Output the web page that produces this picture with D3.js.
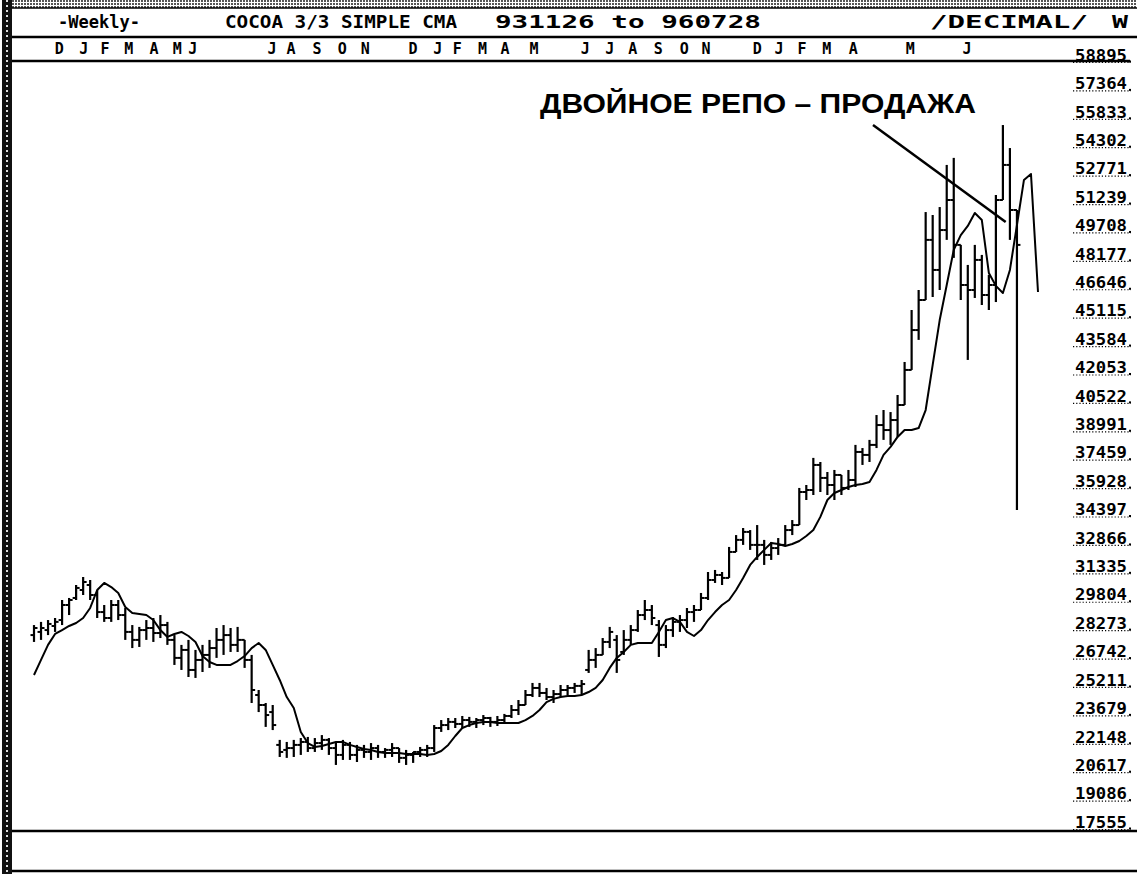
<!DOCTYPE html>
<html>
<head>
<meta charset="utf-8">
<script src="https://cdn.jsdelivr.net/npm/d3@7"></script>
<style>
  body { margin: 0; background: #fff; }
  svg { display: block; }
  .mono { font-family: 'DejaVu Sans Mono', monospace; font-weight: bold; fill: #000; }
  .note { font-family: 'Liberation Sans', Arial, sans-serif; font-weight: bold; fill: #000; }
</style>
</head>
<body>
<div class="graphic"></div>
<script>
// weekly bars, 931126 .. 960728
const highs = [28170,28340,28440,28550,29520,29630,30330,30760,30600,30060,
  29250,29520,29520,29090,28170,28070,28440,28550,28710,28340,
  27630,27100,27370,26830,27100,27370,28010,28170,28010,28070,
  27370,26560,24670,23970,23860,21980,21870,21980,22080,22140,
  22080,22240,22080,21870,21980,21870,21710,21710,21810,21710,
  21540,21810,21540,21440,21330,21600,21710,22780,23050,23160,
  23160,23270,23220,23160,23320,23220,23270,23380,23860,24130,
  24670,25050,25050,24780,24670,24940,24940,25050,25210,26830,
  26930,27470,28070,27630,27900,28170,28980,29520,29250,28440,
  28170,28600,28710,29090,29250,29900,31030,31140,31030,32380,
  33020,33400,33290,33560,32760,32650,32860,33560,33830,35560,
  35720,37180,36960,36420,36530,36260,36530,37880,37710,38150,
  39490,39760,39650,40570,42350,45150,46230,50430,50270,50700,
  52970,53350,48660,47580,48660,48120,47040,51350,55120,53880,
  50540]
const lows = [27260,27370,27630,27800,28170,28710,29520,29790,29520,28550,
  28340,28340,28440,27370,26930,26990,27370,27260,27470,27100,
  26020,25750,25370,25320,25640,25860,26400,26560,26720,26720,
  25860,23970,23480,22680,22510,21060,21010,21060,21170,21330,
  21330,21440,21170,20630,20900,20900,20790,21010,20900,21010,
  21010,21060,20740,20630,20740,21060,21060,21330,22410,22510,
  22620,22620,22680,22620,22780,22680,22730,22840,23160,23320,
  23860,24290,24290,24130,23970,24290,24400,24510,24400,25590,
  25860,26560,26930,25590,26560,27100,27800,28440,28170,26450,
  26930,27530,27800,28010,28340,28980,29520,30440,30330,30710,
  32110,32490,32220,31680,31410,31680,31950,32490,33020,33560,
  34910,35180,35340,35180,34910,35180,35450,35610,36800,36960,
  37710,38150,37880,38310,40030,41920,43540,45690,45850,46230,
  48930,47960,45690,42460,45800,45420,45150,45580,51080,48930,
  34370]
const opens = [27630,27800,27900,28120,28440,29250,29630,30060,30330,29790,
  28870,28550,29250,28710,27800,27370,27900,28010,27740,28170,
  27370,26400,26830,25750,26290,26560,26930,27370,27630,27100,
  27370,26290,24400,23860,23480,21710,21440,21540,21710,21870,
  21540,21810,21980,21540,21170,21710,21170,21440,21330,21540,
  21330,21440,21540,21010,21170,21330,21440,21540,22620,22780,
  22950,22840,23050,22950,23050,23160,22950,23050,23270,23590,
  23860,24400,24780,24510,24290,24450,24670,24780,24890,25750,
  26290,26560,27260,27370,26720,27370,27900,28710,28980,28170,
  27100,27900,28340,28440,28870,28980,29630,30600,30870,30710,
  32110,32760,33190,32490,32490,31950,32320,32490,33290,33560,
  35340,35450,36800,36100,35720,36260,35560,35990,37500,37340,
  37880,38950,38680,39220,40030,41920,44070,45690,48930,47310,
  49460,51080,48660,46500,46230,47850,45960,46500,51080,52970,
  50540]
const closes = [28010,28010,28230,28340,29250,29520,30170,30490,29790,28870,
  28550,29250,28710,27800,27370,27900,28010,27740,28170,27370,
  26400,26830,25750,26290,26560,26930,27370,27630,27100,27370,
  26290,24670,23860,23320,22780,21330,21540,21710,21870,21540,
  21810,21980,21540,21170,21710,21170,21440,21330,21540,21330,
  21440,21540,21010,21170,21330,21440,21540,22620,22780,22950,
  22840,23050,22950,23050,23160,22950,23050,23270,23590,23860,
  24400,24780,24510,24290,24450,24670,24780,24890,24990,26290,
  26560,27260,27800,26290,27370,27900,28710,28980,28550,27100,
  27900,28340,28440,28870,28980,29630,30600,30870,30710,32110,
  32760,33190,32490,32490,31950,32320,32490,33290,33560,35340,
  35450,36800,36100,35720,36260,35560,35990,37500,37340,37880,
  38950,38680,39220,40030,41920,44070,45690,48930,47310,49460,
  51080,48660,46500,46230,47850,45960,46500,51080,52970,50540,
  48660]
// 3/3 moving average, runs 3 weeks past the last bar
const movingAvg = [25480,26290,27100,27690,27900,28120,28280,28550,29090,30060,
  30440,30220,29900,29140,28820,28770,28710,28440,27900,27530,
  27690,27800,27580,27260,26500,26180,26020,26020,26020,26230,
  26500,26930,27200,26830,26020,25210,24290,23700,22410,21810,
  21600,21650,21760,21870,21870,21710,21600,21490,21440,21330,
  21270,21270,21270,21220,21220,21220,21170,21220,21380,21710,
  22190,22620,22780,22890,22950,22950,22890,22890,22890,22890,
  23050,23270,23590,24020,24190,24290,24350,24350,24400,24560,
  24780,25210,25860,26400,26720,27100,27200,27200,27200,27800,
  28440,28550,28340,27800,27580,27900,28440,28870,29250,29520,
  30060,30710,31410,31840,32220,32590,32540,32430,32540,32700,
  32970,33290,34000,34910,35290,35450,35610,35720,35770,35880,
  36530,37340,37770,38310,38680,38680,38790,39760,42190,44610,
  46500,48390,49190,49680,50380,50000,47150,46450,46070,47310,
  49730,52160,52480,46120]

const priceTicks = [58895,57364,55833,54302,52771,51239,49708,48177,46646,45115,
  43584,42053,40522,38991,37459,35928,34397,32866,31335,29804,
  28273,26742,25211,23679,22148,20617,19086,17555]

const monthLabels = ['D','J','F','M','A','M','J','J','A','S','O','N',
  'D','J','F','M','A','M','J','J','A','S','O','N','D','J','F','M','A','M','J']
// week index where each month letter sits
const monthPos = [3.6,7.1,10.1,13.5,17.1,20.4,22.6,33.9,36.6,40.3,43.9,47.2,
  54.0,57.5,60.3,63.9,67.1,71.2,78.5,82.0,85.3,88.9,92.6,95.7,
  103.0,106.1,109.4,112.9,116.7,124.8,132.9]

const headerTexts = ['-Weekly-', 'COCOA 3/3 SIMPLE CMA', '931126 to 960728', '/DECIMAL/', 'W']
const noteText = 'ДВОЙНОЕ РЕПО – ПРОДАЖА'
// pointer of the note, in week index / price
const noteIdx = [119.5, 138.4]
const noteVal = [55120, 49890]

const W = 1137
const H = 874
const TICK = 3.5

const svg = d3.select('.graphic').append('svg')
  .attr('width', W)
  .attr('height', H)

const defs = svg.append('defs')
const pat = defs.append('pattern')
  .attr('id', 'dots')
  .attr('width', 3)
  .attr('height', 3)
  .attr('patternUnits', 'userSpaceOnUse')
pat.append('rect').attr('width', 3).attr('height', 3).attr('fill', '#fff')
pat.append('rect').attr('width', 2).attr('height', 2).attr('fill', '#555')

svg.append('rect').attr('width', W).attr('height', H).attr('fill', '#fff')

// frame
svg.append('rect').attr('x', 12).attr('y', 0).attr('width', W - 12).attr('height', 8).attr('fill', 'url(#dots)')
svg.append('rect').attr('x', 2).attr('y', 0).attr('width', 10).attr('height', H).attr('fill', '#111')
svg.append('line')
  .attr('x1', 7).attr('x2', 7).attr('y1', 0).attr('y2', H)
  .attr('stroke', '#ddd').attr('stroke-width', 2).attr('stroke-dasharray', '2,3')

const hlines = [[8, 1.5, W], [37, 2.5, W], [61, 2.5, 1130], [831, 2.5, W], [871, 2.5, W]]
svg.selectAll('.hline')
  .data(hlines)
  .enter().append('line')
    .attr('class', 'hline')
    .attr('x1', 12).attr('x2', d => d[2])
    .attr('y1', d => d[0]).attr('y2', d => d[0])
    .attr('stroke', '#000').attr('stroke-width', d => d[1])

// header row
const headerX = [58, 225, 495, 930, 1112]
const headerW = [82, 232, 266, 158, 16]
svg.selectAll('.head')
  .data(headerTexts)
  .enter().append('text')
    .attr('class', 'mono head')
    .attr('x', (d, i) => headerX[i])
    .attr('y', 28)
    .attr('font-size', 17)
    .attr('textLength', (d, i) => headerW[i])
    .attr('lengthAdjust', 'spacingAndGlyphs')
    .text(d => d)

// scales
const x = d3.scaleLinear().domain([0, movingAvg.length - 1]).range([34, 1038])
const y = d3.scaleLinear().domain([17555, 58895]).range([822, 55])

// months
svg.selectAll('.month')
  .data(monthLabels)
  .enter().append('text')
    .attr('class', 'mono month')
    .attr('x', (d, i) => x(monthPos[i]))
    .attr('y', 54)
    .attr('font-size', 15)
    .attr('text-anchor', 'middle')
    .text(d => d)

// price axis
const axis = svg.append('g')
  .attr('class', 'axis axis--y')
  .attr('transform', 'translate(1127,0)')
  .call(d3.axisLeft(y).tickValues(priceTicks).tickSize(0).tickPadding(0).tickFormat(d3.format('d')))
axis.select('.domain').remove()
axis.selectAll('text')
  .attr('class', 'mono')
  .attr('font-size', 15)
  .attr('font-family', null)
  .attr('dy', '0.35em')
  .attr('textLength', 52)
  .attr('lengthAdjust', 'spacingAndGlyphs')
axis.selectAll('.tick').append('line')
  .attr('x1', -54).attr('x2', 4)
  .attr('y1', 7).attr('y2', 7)
  .attr('stroke', '#000').attr('stroke-width', 1.2)
  .attr('stroke-dasharray', '1.2,2')
axis.selectAll('.tick').append('rect')
  .attr('x', 2).attr('y', 5).attr('width', 2).attr('height', 2).attr('fill', '#000')

// bars
const plot = svg.append('g').attr('class', 'g-bars')
const bar = plot.selectAll('.bar')
  .data(highs)
  .enter().append('g')
    .attr('class', 'bar')
    .attr('transform', (d, i) => `translate(${x(i)},0)`)
bar.append('line')
  .attr('y1', d => y(d))
  .attr('y2', (d, i) => y(lows[i]))
  .attr('stroke', '#000').attr('stroke-width', 2.2)
bar.append('line')
  .attr('x1', -TICK).attr('x2', 0)
  .attr('y1', (d, i) => y(opens[i]))
  .attr('y2', (d, i) => y(opens[i]))
  .attr('stroke', '#000').attr('stroke-width', 2)
bar.append('line')
  .attr('x1', 0).attr('x2', TICK)
  .attr('y1', (d, i) => y(closes[i]))
  .attr('y2', (d, i) => y(closes[i]))
  .attr('stroke', '#000').attr('stroke-width', 2)

// moving average
const line = d3.line()
  .x((d, i) => x(i))
  .y(d => y(d))
svg.append('path')
  .datum(movingAvg)
  .attr('fill', 'none')
  .attr('stroke', '#000')
  .attr('stroke-width', 2)
  .attr('stroke-linejoin', 'round')
  .attr('d', line)

// note
svg.append('text')
  .attr('class', 'note')
  .attr('x', 540)
  .attr('y', 113)
  .attr('font-size', 27)
  .attr('textLength', 436)
  .attr('lengthAdjust', 'spacingAndGlyphs')
  .text(noteText)
svg.append('line')
  .attr('x1', x(noteIdx[0])).attr('y1', y(noteVal[0]))
  .attr('x2', x(noteIdx[1])).attr('y2', y(noteVal[1]))
  .attr('stroke', '#000').attr('stroke-width', 2.5)
</script>
</body>
</html>
